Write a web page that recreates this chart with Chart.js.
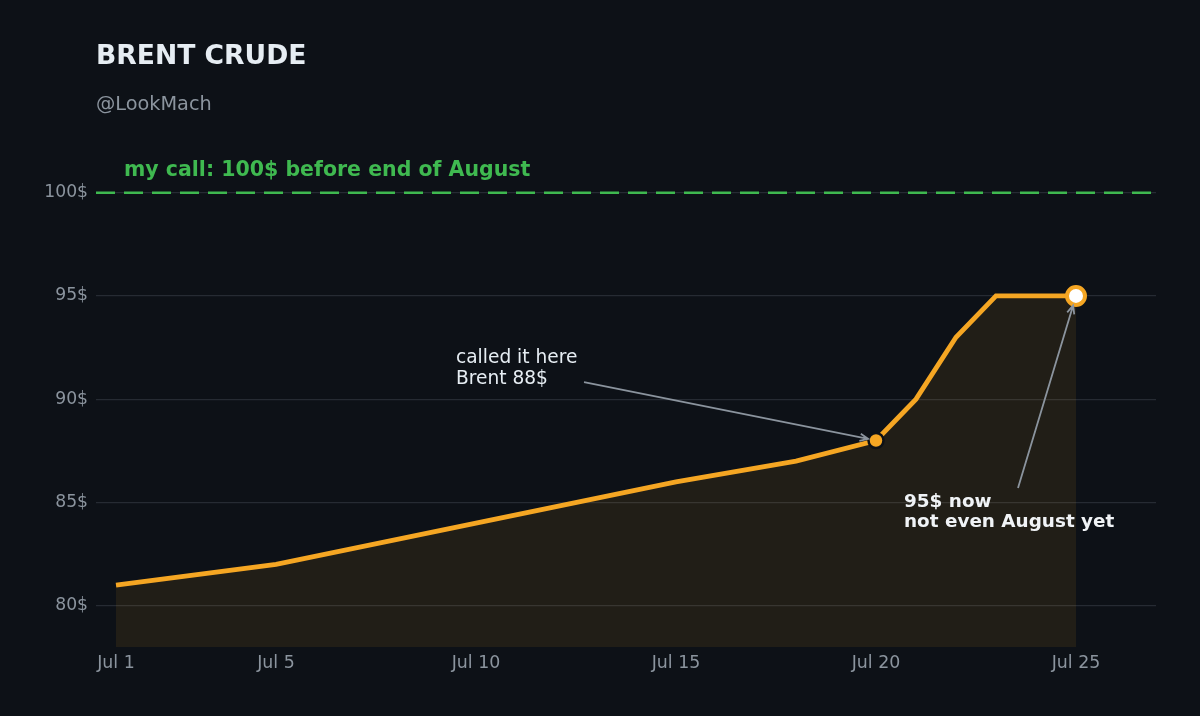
<!DOCTYPE html>
<html>
<head>
<meta charset="utf-8">
<title>Brent crude</title>
<script src="https://cdn.jsdelivr.net/npm/chart.js@4"></script>
<style>
  html, body { margin: 0; padding: 0; background: #0d1117; }
  #wrap { width: 1200px; height: 716px; position: relative; }
</style>
</head>
<body>
<div id="wrap"><canvas id="myChart"></canvas></div>
<script>
// data (day of July, price in $)
const days = [1, 5, 10, 15, 18, 20, 21, 22, 23, 25];
const prices = [81, 82, 84, 86, 87, 88, 90, 93, 95, 95];
const xTicks = [1, 5, 10, 15, 20, 25];
const yTicks = [80, 85, 90, 95, 100];
const target = 100;
const callDay = 20;   // "called it here"
const nowDay = 25;    // last point

const BG = '#0d1117';
const ORANGE = '#f5a623';
const GREEN = '#3fb950';
const MUTED = '#8b949e';
const TEXT = '#e6edf3';
const FONT = "'DejaVu Sans', sans-serif";

function arrow(ctx, x1, y1, x2, y2, shrink) {
    const a = Math.atan2(y2 - y1, x2 - x1);
    x2 -= Math.cos(a) * shrink;
    y2 -= Math.sin(a) * shrink;
    ctx.save();
    ctx.strokeStyle = MUTED;
    ctx.lineWidth = 1.8;
    ctx.beginPath();
    ctx.moveTo(x1, y1);
    ctx.lineTo(x2, y2);
    // open arrow head
    const h = 9, w = 0.42;
    ctx.moveTo(x2 - h * Math.cos(a - w), y2 - h * Math.sin(a - w));
    ctx.lineTo(x2, y2);
    ctx.lineTo(x2 - h * Math.cos(a + w), y2 - h * Math.sin(a + w));
    ctx.stroke();
    ctx.restore();
}

const decor = {
    id: 'decor',
    beforeDraw(chart) {
        const ctx = chart.ctx;
        ctx.save();
        ctx.fillStyle = BG;
        ctx.fillRect(0, 0, chart.width, chart.height);
        ctx.restore();
    },
    beforeDatasetsDraw(chart) {
        const { ctx, chartArea, scales } = chart;
        const y = scales.y.getPixelForValue(target);
        ctx.save();
        ctx.strokeStyle = GREEN;
        ctx.lineWidth = 2.5;
        ctx.setLineDash([19, 9]);
        ctx.beginPath();
        ctx.moveTo(chartArea.left, y);
        ctx.lineTo(chartArea.right, y);
        ctx.stroke();
        ctx.setLineDash([]);
        ctx.fillStyle = GREEN;
        ctx.font = 'bold 20.5px ' + FONT;
        ctx.textBaseline = 'middle';
        ctx.fillText('my call: ' + target + '$ before end of August', scales.x.getPixelForValue(1.2), y - 22);
        ctx.restore();
    },
    afterDatasetsDraw(chart) {
        const { ctx, scales } = chart;
        const X = v => scales.x.getPixelForValue(v);
        const Y = v => scales.y.getPixelForValue(v);
        const iCall = days.indexOf(callDay);
        const iNow = days.indexOf(nowDay);

        ctx.save();
        ctx.textBaseline = 'middle';

        // annotation 1
        arrow(ctx, X(12.7), Y(90.82), X(callDay), Y(prices[iCall]), 8);
        ctx.fillStyle = TEXT;
        ctx.font = '18.6px ' + FONT;
        ctx.fillText('called it here', X(9.5), Y(91.98));
        ctx.fillText('Brent ' + prices[iCall] + '$', X(9.5), Y(91.98) + 21);

        // annotation 2
        arrow(ctx, X(23.55), Y(85.7), X(nowDay), Y(prices[iNow]), 10);
        ctx.fillStyle = '#f0f3f6';
        ctx.font = 'bold 18.4px ' + FONT;
        ctx.fillText(prices[iNow] + '$ now', X(20.7), Y(85.02));
        ctx.fillText('not even August yet', X(20.7), Y(85.02) + 20);

        // title
        ctx.fillStyle = '#e6edf3';
        ctx.font = 'bold 26.6px ' + FONT;
        ctx.fillText('BRENT CRUDE', chart.chartArea.left, 57);
        ctx.fillStyle = MUTED;
        ctx.font = '19.3px ' + FONT;
        ctx.fillText('@LookMach', chart.chartArea.left, 105);
        ctx.restore();
    }
};

const ctx = document.getElementById('myChart');

const myChart = new Chart(ctx, {
    type: 'line',
    data: {
        datasets: [{
            data: days.map((d, i) => ({ x: d, y: prices[i] })),
            borderColor: ORANGE,
            borderWidth: 4.8,
            backgroundColor: 'rgba(245, 166, 35, 0.09)',
            fill: 'start',
            tension: 0,
            pointRadius: days.map(d => d === callDay ? 7.5 : d === nowDay ? 9 : 0),
            pointBackgroundColor: days.map(d => d === nowDay ? '#ffffff' : ORANGE),
            pointBorderColor: days.map(d => d === nowDay ? ORANGE : BG),
            pointBorderWidth: days.map(d => d === nowDay ? 4 : 2.5),
        }]
    },
    options: {
        responsive: true,
        maintainAspectRatio: false,
        animation: false,
        layout: {
            padding: { top: 172, right: 44, left: 0, bottom: 0 }
        },
        plugins: {
            legend: { display: false },
            tooltip: { enabled: false },
        },
        scales: {
            x: {
                type: 'linear',
                min: 0.5,
                max: 27,
                grid: { display: false, drawTicks: false },
                border: { display: false },
                afterBuildTicks: axis => { axis.ticks = xTicks.map(v => ({ value: v })); },
                afterFit: scale => { scale.height = 69; },
                ticks: {
                    color: MUTED,
                    padding: 6,
                    maxRotation: 0,
                    font: { family: FONT, size: 17.4 },
                    callback: v => 'Jul ' + v
                }
            },
            y: {
                min: 78,
                max: 101,
                grid: { color: '#262b33', lineWidth: 1.2, drawTicks: false },
                border: { display: false },
                afterBuildTicks: axis => { axis.ticks = yTicks.map(v => ({ value: v })); },
                afterFit: scale => { scale.width = 96; },
                ticks: {
                    color: MUTED,
                    padding: 8,
                    font: { family: FONT, size: 17.2 },
                    callback: v => v + '$'
                }
            }
        }
    },
    plugins: [decor]
});
</script>
</body>
</html>
